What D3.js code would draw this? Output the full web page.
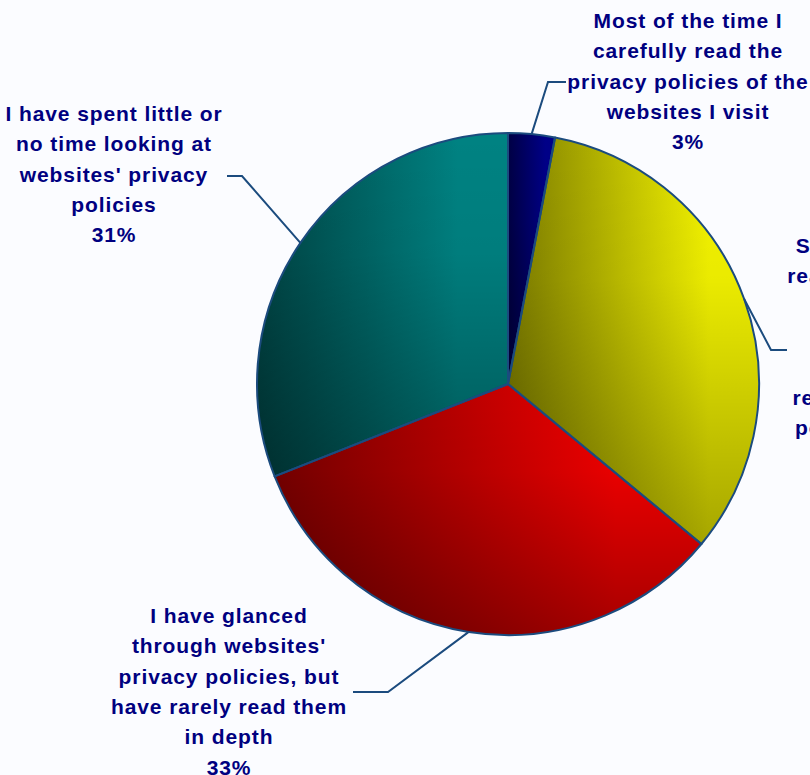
<!DOCTYPE html>
<html>
<head>
<meta charset="utf-8">
<script src="https://cdn.jsdelivr.net/npm/d3@7"></script>
<style>
  html, body { margin: 0; padding: 0; background: #fbfcff; overflow: hidden; }
  svg { display: block; }
</style>
</head>
<body>
<svg id="chart" width="810" height="775"></svg>
<script>
// Survey answers, clockwise from 12 o'clock
const categories = [
  "Most of the time I carefully read the privacy policies of the websites I visit",
  "Sometimes I had read the websites' privacy policies, but other times I rely on skimming policy highlights",
  "I have glanced through websites' privacy policies, but have rarely read them in depth",
  "I have spent little or no time looking at websites' privacy policies"
];
const values = [3, 33, 33, 31];
const percentLabels = ["3%", "33%", "33%", "31%"];
const labelLines = [
  ["Most of the time I", "carefully read the", "privacy policies of the", "websites I visit"],
  ["Sometimes I had", "read the websites'", "privacy", "policies, but", "other times I", "rely on skimming", "policy highlights"],
  ["I have glanced", "through websites'", "privacy policies, but", "have rarely read them", "in depth"],
  ["I have spent little or", "no time looking at", "websites' privacy", "policies"]
];
// slice gradients: dark (left) and bright (right) colour
const sliceDark = ["#000044", "#7c7c00", "#760000", "#004444"];
const sliceBright = ["#000088", "#f4f400", "#f20000", "#008282"];

// ---- layout ----
const W = 810, H = 775;
const cx = 508, cy = 384, R = 251;
const lineGap = 30.3;
// label block: centre x, first baseline y, elbow point, leader end point
const labelLayout = [
  { x: 688, y: 28,  elbow: [548, 82],  end: [566, 82] },
  { x: 886, y: 253, elbow: [771, 350], end: [787, 350] },
  { x: 229, y: 623, elbow: [388, 692], end: [353, 692] },
  { x: 114, y: 121, elbow: [242, 176], end: [227, 176] }
];
const edgeColor = "#1b4b7e";
const textColor = "#000080";

const svg = d3.select("#chart");
svg.append("rect").attr("width", W).attr("height", H).attr("fill", "#fbfcff");
const defs = svg.append("defs");

values.forEach((v, i) => {
  const g = defs.append("linearGradient")
    .attr("id", "h" + i)
    .attr("x1", 0).attr("y1", 0).attr("x2", 1).attr("y2", 0);
  g.append("stop").attr("offset", "0").attr("stop-color", sliceDark[i]);
  g.append("stop").attr("offset", "0.8").attr("stop-color", sliceBright[i]);
  g.append("stop").attr("offset", "1").attr("stop-color", sliceBright[i]);
});
// vertical shading laid over each slice
const shade = defs.append("linearGradient")
  .attr("id", "vshade")
  .attr("x1", 0).attr("y1", 0).attr("x2", 0).attr("y2", 1);
shade.append("stop").attr("offset", "0").attr("stop-color", "#000").attr("stop-opacity", 0);
shade.append("stop").attr("offset", "0.35").attr("stop-color", "#000").attr("stop-opacity", 0.04);
shade.append("stop").attr("offset", "1").attr("stop-color", "#000").attr("stop-opacity", 0.32);

const pie = d3.pie().sort(null).value(d => d).startAngle(0).endAngle(2 * Math.PI);
const arcs = pie(values);
const arc = d3.arc().innerRadius(0).outerRadius(R);

const g = svg.append("g").attr("transform", `translate(${cx},${cy})`);

g.selectAll("path.base").data(arcs).join("path")
  .attr("class", "base")
  .attr("d", arc)
  .attr("fill", (d, i) => `url(#h${i})`);

g.selectAll("path.shade").data(arcs).join("path")
  .attr("class", "shade")
  .attr("d", arc)
  .attr("fill", "url(#vshade)");

g.selectAll("path.edge").data(arcs).join("path")
  .attr("class", "edge")
  .attr("d", arc)
  .attr("fill", "none")
  .attr("stroke", edgeColor)
  .attr("stroke-width", 2)
  .attr("stroke-linejoin", "round");

// leader lines from the rim at each slice's mid angle
arcs.forEach((d, i) => {
  const a = (d.startAngle + d.endAngle) / 2;
  const p0 = [cx + R * Math.sin(a), cy - R * Math.cos(a)];
  const L = labelLayout[i];
  svg.append("polyline")
    .attr("points", [p0, L.elbow, L.end].map(p => p.join(",")).join(" "))
    .attr("fill", "none")
    .attr("stroke", edgeColor)
    .attr("stroke-width", 2);
});

// labels
arcs.forEach((d, i) => {
  const L = labelLayout[i];
  const lines = labelLines[i].concat([percentLabels[i]]);
  const t = svg.append("text")
    .attr("text-anchor", "middle")
    .attr("font-family", "'Liberation Sans', Arial, sans-serif")
    .attr("font-weight", "bold")
    .attr("font-size", 21)
    .attr("letter-spacing", "0.9px")
    .attr("fill", textColor);
  lines.forEach((s, k) => {
    t.append("tspan")
      .attr("x", L.x)
      .attr("y", L.y + k * lineGap)
      .text(s);
  });
});
</script>
</body>
</html>
